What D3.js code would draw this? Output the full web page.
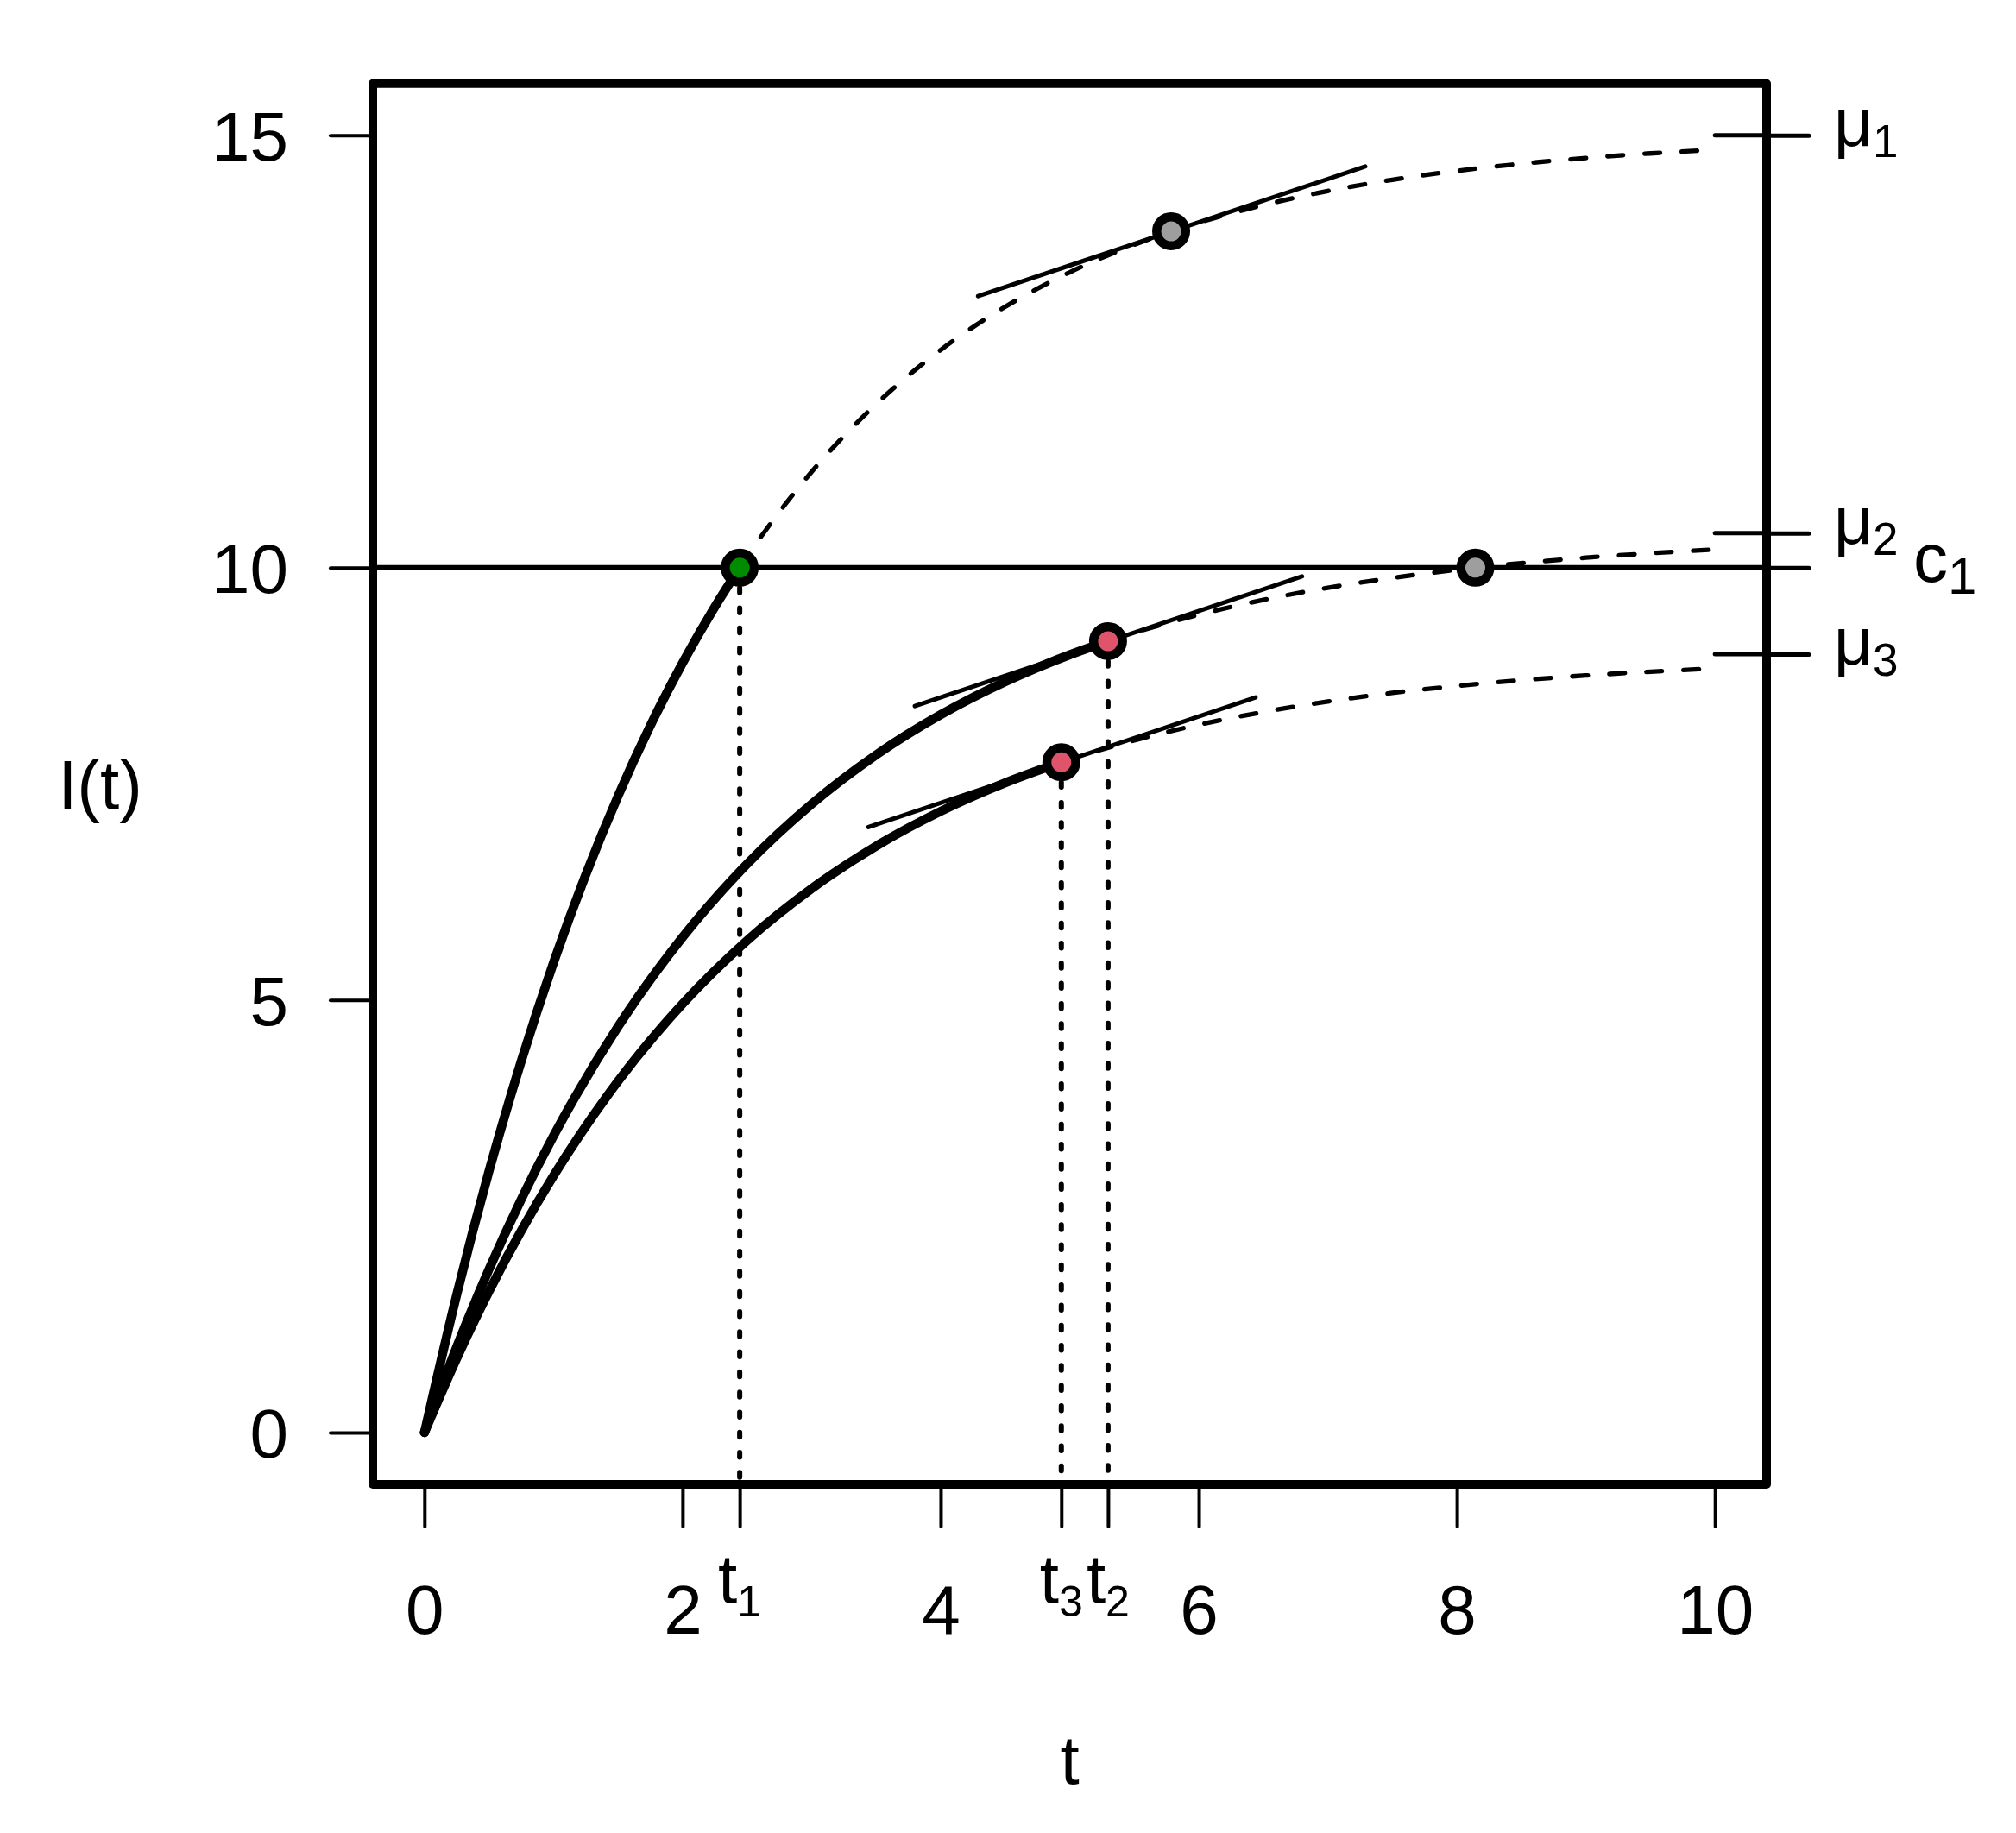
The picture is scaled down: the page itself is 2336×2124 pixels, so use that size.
<!DOCTYPE html>
<html><head><meta charset="utf-8">
<script src="https://cdn.jsdelivr.net/npm/d3@7"></script>
<style>
html,body{margin:0;padding:0;background:#fff;}
svg{display:block;}
text{font-family:"Liberation Sans",Arial,Helvetica,sans-serif;fill:#000;}
</style>
</head><body>
<svg id="chart" width="2336" height="2124"></svg>
<script>
// ---------------- data ----------------
const xTicks = [0, 2, 4, 6, 8, 10];
const yTicks = [0, 5, 10, 15];
const tMarks = [2.443, 4.935, 5.297];          // t1, t3, t2
const tMarkSubs = ["1", "3", "2"];
const muValues = [15, 10.4, 9.0];
const muSubs = ["1", "2", "3"];
const cValue = 10;
const cSub = "1";

const curve1T = [0,0.25,0.5,0.75,1,1.25,1.5,1.75,2,2.25,2.443,2.5,3,3.5,4,4.5,5,5.5,6,6.5,7,7.5,8,8.5,9,9.5,10];
const curve1I = [0,1.594,3.021,4.294,5.433,6.450,7.359,8.172,8.898,9.547,10.0,10.127,11.108,11.892,12.518,13.017,13.416,13.735,13.990,14.193,14.356,14.486,14.589,14.672,14.738,14.791,14.833];
const curve2T = [0,0.25,0.5,0.75,1,1.5,2,2.5,3,3.5,4,4.5,5,5.297,5.5,6,6.5,7,7.5,8,8.5,9,9.5,10];
const curve2I = [0,0.990,1.886,2.696,3.429,4.692,5.727,6.574,7.267,7.835,8.300,8.681,8.993,9.150,9.248,9.457,9.628,9.768,9.882,9.976,10.053,10.116,10.167,10.210];
const curve3T = [0,0.25,0.5,0.75,1,1.5,2,2.5,3,3.5,4,4.5,4.935,5,5.5,6,6.5,7,7.5,8,8.5,9,9.5,10];
const curve3I = [0,0.857,1.632,2.333,2.967,4.061,4.956,5.689,6.289,6.781,7.183,7.512,7.750,7.782,8.003,8.184,8.331,8.453,8.552,8.633,8.699,8.754,8.798,8.835];
const curveBreaks = [2.443, 5.297, 4.935];

const tangentStartT = [4.29, 3.80, 3.44];
const tangentStartI = [13.14, 8.40, 7.00];
const tangentEndT   = [7.29, 6.80, 6.44];
const tangentEndI   = [14.64, 9.90, 8.50];

const pointT = [2.443, 5.297, 4.935, 5.786, 8.143];
const pointI = [10.0, 9.15, 7.75, 13.89, 10.0];
const pointRole = ["reached", "tangent", "tangent", "future", "future"];

// ---------------- layout / style ----------------
const roleFill = {reached: "#008B00", tangent: "#DF536B", future: "#9E9E9E"};
const box = {left: 432, right: 2047, top: 96.7, bottom: 1720};
const svg = d3.select("#chart");
svg.append("rect").attr("width", 2336).attr("height", 2124).attr("fill", "#fff");

const x = d3.scaleLinear().domain([-0.4, 10.4]).range([box.left, box.right]);
const y = d3.scaleLinear().domain([-0.6, 15.6]).range([box.bottom, box.top]);

const line = d3.line().x(d => x(d[0])).y(d => y(d[1])).curve(d3.curveMonotoneX);

// horizontal c1 line
svg.append("line")
  .attr("x1", box.left).attr("x2", box.right)
  .attr("y1", y(cValue)).attr("y2", y(cValue))
  .attr("stroke", "#000").attr("stroke-width", 6);

// mu inner segments
svg.selectAll(".museg").data(muValues).enter().append("line")
  .attr("x1", x(10)).attr("x2", box.right)
  .attr("y1", d => y(d)).attr("y2", d => y(d))
  .attr("stroke", "#000").attr("stroke-width", 5).attr("stroke-linecap", "round");

// dotted verticals
const dropT = [tMarks[0], tMarks[2], tMarks[1]];
const dropI = [pointI[0], pointI[1], pointI[2]];
svg.selectAll(".drop").data(dropT).enter().append("line")
  .attr("x1", d => x(d)).attr("x2", d => x(d))
  .attr("y1", (d, i) => y(dropI[i])).attr("y2", box.bottom)
  .attr("stroke", "#000").attr("stroke-width", 6)
  .attr("stroke-linecap", "round").attr("stroke-dasharray", "5.5 17.8");

// curves
const curvesT = [curve1T, curve2T, curve3T];
const curvesI = [curve1I, curve2I, curve3I];
curvesT.forEach((ts, k) => {
  const pts = ts.map((t, i) => [t, curvesI[k][i]]);
  const br = curveBreaks[k];
  const solid = pts.filter(p => p[0] <= br + 1e-9);
  const dashed = pts.filter(p => p[0] >= br - 1e-9);
  svg.append("path").attr("d", line(dashed)).attr("fill", "none")
    .attr("stroke", "#000").attr("stroke-width", 5.3)
    .attr("stroke-linecap", "round").attr("stroke-dasharray", "18 25");
  svg.append("path").attr("d", line(solid)).attr("fill", "none")
    .attr("stroke", "#000").attr("stroke-width", 10.5)
    .attr("stroke-linecap", "round").attr("stroke-linejoin", "round");
});

// tangent lines
tangentStartT.forEach((t0, i) => {
  svg.append("line")
    .attr("x1", x(t0)).attr("y1", y(tangentStartI[i]))
    .attr("x2", x(tangentEndT[i])).attr("y2", y(tangentEndI[i]))
    .attr("stroke", "#000").attr("stroke-width", 5).attr("stroke-linecap", "round");
});

// box
svg.append("rect")
  .attr("x", box.left).attr("y", box.top)
  .attr("width", box.right - box.left).attr("height", box.bottom - box.top)
  .attr("fill", "none").attr("stroke", "#000").attr("stroke-width", 10)
  .attr("stroke-linejoin", "round");

// bottom axis (numbers)
const gx = svg.append("g").attr("transform", `translate(0,${box.bottom})`)
  .call(d3.axisBottom(x).tickValues(xTicks).tickSize(49).tickSizeOuter(0));
gx.select(".domain").remove();
gx.selectAll(".tick line").attr("stroke", "#000").attr("stroke-width", 4).attr("stroke-linecap", "round");
gx.selectAll(".tick text").attr("y", 173).attr("dy", null)
  .style("font-size", "80px").attr("fill", "#000");

// bottom axis (t marks)
const gt = svg.append("g").attr("transform", `translate(0,${box.bottom})`)
  .call(d3.axisBottom(x).tickValues(tMarks).tickSize(49).tickSizeOuter(0).tickFormat(""));
gt.select(".domain").remove();
gt.selectAll(".tick line").attr("stroke", "#000").attr("stroke-width", 4).attr("stroke-linecap", "round");
gt.selectAll(".tick text").remove();
tMarks.forEach((t, i) => {
  const tx = svg.append("text").attr("x", x(t)).attr("y", box.bottom + 137)
    .attr("text-anchor", "middle");
  tx.append("tspan").style("font-size", "80px").text("t");
  tx.append("tspan").style("font-size", "50px").attr("dy", 16).text(tMarkSubs[i]);
});

// left axis
const gy = svg.append("g").attr("transform", `translate(${box.left},0)`)
  .call(d3.axisLeft(y).tickValues(yTicks).tickSize(49).tickSizeOuter(0));
gy.select(".domain").remove();
gy.selectAll(".tick line").attr("stroke", "#000").attr("stroke-width", 4).attr("stroke-linecap", "round");
gy.selectAll(".tick text").attr("x", -98).attr("dy", "0.357em")
  .style("font-size", "80px").attr("fill", "#000");

// right axis (mu & c ticks)
const gr = svg.append("g").attr("transform", `translate(${box.right},0)`)
  .call(d3.axisRight(y).tickValues(muValues.concat([cValue])).tickSize(49).tickSizeOuter(0).tickFormat(""));
gr.select(".domain").remove();
gr.selectAll(".tick line").attr("stroke", "#000").attr("stroke-width", 5).attr("stroke-linecap", "round");
gr.selectAll(".tick text").remove();
muValues.forEach((m, i) => {
  const tx = svg.append("text").attr("x", box.right + 78).attr("y", y(m) + 12);
  tx.append("tspan").style("font-size", "78px").text("\u03BC");
  tx.append("tspan").style("font-size", "53px").attr("dy", 13).text(muSubs[i]);
});
{
  const tx = svg.append("text").attr("x", box.right + 170).attr("y", y(cValue) + 16);
  tx.append("tspan").style("font-size", "80px").text("c");
  tx.append("tspan").style("font-size", "60px").attr("dy", 14).text(cSub);
}

// axis titles
svg.append("text").attr("x", (box.left + box.right) / 2).attr("y", 2067)
  .attr("text-anchor", "middle").style("font-size", "80px").text("t");
svg.append("text").attr("x", 116).attr("y", 937)
  .attr("text-anchor", "middle").style("font-size", "80px").text("I(t)");

// points
svg.selectAll(".pt").data(pointT).enter().append("circle")
  .attr("cx", d => x(d)).attr("cy", (d, i) => y(pointI[i]))
  .attr("r", 16.75)
  .attr("fill", (d, i) => roleFill[pointRole[i]])
  .attr("stroke", "#000").attr("stroke-width", 10.5);
</script>
</body></html>
